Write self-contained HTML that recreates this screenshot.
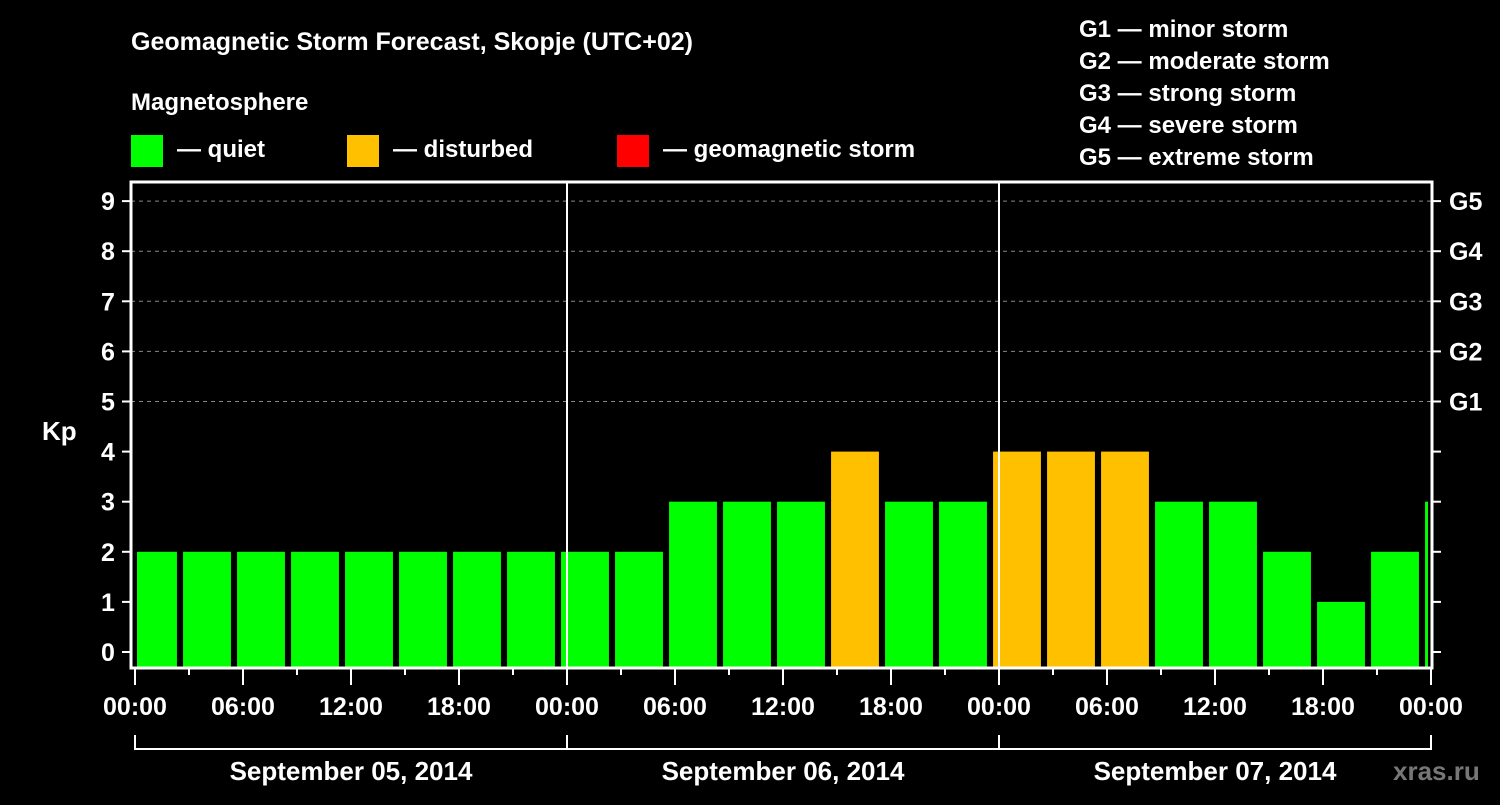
<!DOCTYPE html>
<html><head><meta charset="utf-8"><style>
body{margin:0;background:#000;width:1500px;height:800px;overflow:hidden}
svg text{font-family:"Liberation Sans",sans-serif;font-weight:bold;fill:#fff}
</style></head><body>
<svg id="c" width="1500" height="800">
<text x="131" y="50" font-size="25">Geomagnetic Storm Forecast, Skopje (UTC+02)</text>
<text x="131" y="110" font-size="24">Magnetosphere</text>
<g><rect x="131" y="135" width="32" height="32" fill="#00ff00"/><text x="177" y="157" font-size="24">— quiet</text></g>
<g><rect x="347" y="135" width="32" height="32" fill="#ffc000"/><text x="393" y="157" font-size="24">— disturbed</text></g>
<g><rect x="617" y="135" width="32" height="32" fill="#ff0000"/><text x="663" y="157" font-size="24">— geomagnetic storm</text></g>
<g font-size="24">
<text x="1079" y="37">G1 — minor storm</text><text x="1079" y="69">G2 — moderate storm</text><text x="1079" y="101">G3 — strong storm</text><text x="1079" y="133">G4 — severe storm</text><text x="1079" y="165">G5 — extreme storm</text></g>
<text x="42" y="440" font-size="26">Kp</text>
<text x="1393" y="780" font-size="26" fill="#777" style="fill:#777">xras.ru</text>
<g id="g"></g>
</svg>
<script>
const kpValues=[2,2,2,2,2,2,2,2,2,2,3,3,3,4,3,3,4,4,4,3,3,2,1,2,3];
const yTicks=[0,1,2,3,4,5,6,7,8,9];
const gLabels=["G1","G2","G3","G4","G5"];
const dayLabels=["September 05, 2014","September 06, 2014","September 07, 2014"];
const hourLabels=["00:00","06:00","12:00","18:00"];
const NS="http://www.w3.org/2000/svg",g=document.getElementById('g');
const X0=135,PXH=18,Y0=652,PXK=50.1,L=131,R=1432,T=182,B=668;
const xs=h=>X0+h*PXH, ys=k=>Y0-k*PXK;
function mk(t,a){const e=document.createElementNS(NS,t);for(const k in a)e.setAttribute(k,a[k]);g.appendChild(e);return e;}
// grid
for(let k=5;k<=9;k++){const e=mk('line',{x1:L,x2:R,y1:ys(k),y2:ys(k),stroke:'#888','stroke-dasharray':'4 4'});

}
// bars
kpValues.forEach((v,i)=>{const c=0.5+3*i-1.5+2;let x1=xs(c-1.5+0.17),x2=xs(c+1.5-0.17);
x1=Math.max(x1,X0+2);x2=Math.min(x2,R-4);
const e=mk('rect',{x:x1,y:ys(v),width:x2-x1,height:B-ys(v),fill:v>=5?'#ff0000':v>=4?'#ffc000':'#00ff00'});

});
// day separators
[1,2].forEach(d=>{const e=mk('line',{x1:xs(24*d),x2:xs(24*d),y1:T,y2:B,stroke:'#fff','stroke-width':2});

});
// frame
const f=mk('rect',{x:L,y:T,width:R-L,height:B-T,fill:'none',stroke:'#fff','stroke-width':3});


// y ticks
yTicks.forEach(k=>{mk('line',{x1:122,x2:L,y1:ys(k),y2:ys(k),stroke:'#fff','stroke-width':2});
mk('line',{x1:R,x2:1441,y1:ys(k),y2:ys(k),stroke:'#fff','stroke-width':2});
const t=mk('text',{x:108,y:ys(k)+9,'font-size':25,'text-anchor':'middle'});t.textContent=k;

});
gLabels.forEach((s,i)=>{const t=mk('text',{x:1449,y:ys(5+i)+9,'font-size':25});t.textContent=s;

});
// x ticks
for(let h=0;h<=72;h+=3){mk('line',{x1:xs(h),x2:xs(h),y1:B,y2:h%6==0?685:675,stroke:'#fff','stroke-width':2});}
for(let h=0;h<=72;h+=6){const t=mk('text',{x:xs(h),y:715,'font-size':25,'text-anchor':'middle'});t.textContent=hourLabels[(h/6)%4];

}
// day brackets
mk('line',{x1:xs(0),x2:xs(72),y1:749,y2:749,stroke:'#fff','stroke-width':2});
for(let d=0;d<=3;d++)mk('line',{x1:xs(24*d),x2:xs(24*d),y1:735,y2:750,stroke:'#fff','stroke-width':2});
dayLabels.forEach((s,d)=>{const t=mk('text',{x:xs(24*d+12),y:780,'font-size':26,'text-anchor':'middle'});t.textContent=s;

});
</script>
</body></html>
